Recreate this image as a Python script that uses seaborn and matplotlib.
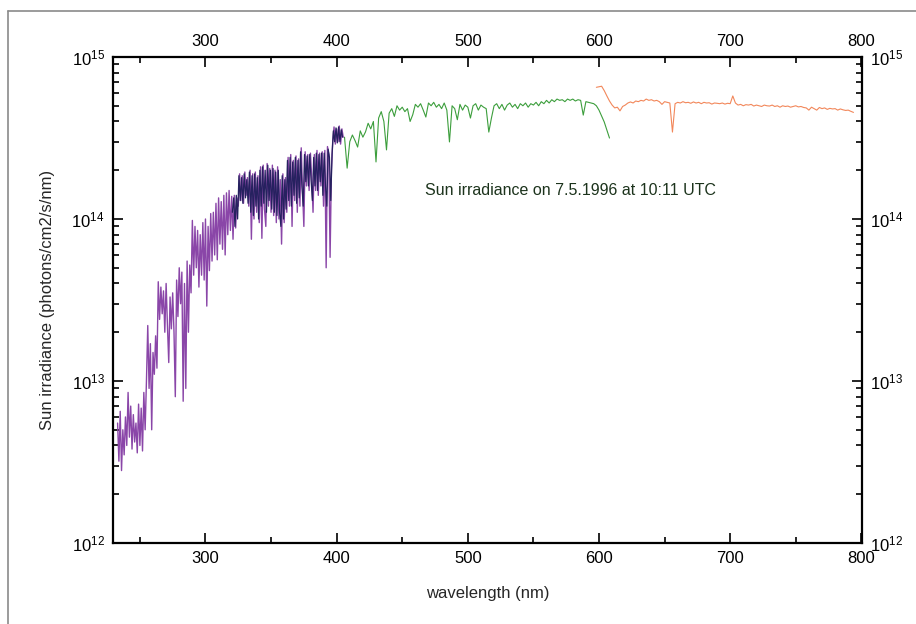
import numpy as np
import pandas as pd
import matplotlib
matplotlib.use("Agg")
import matplotlib.pyplot as plt
from matplotlib.lines import Line2D
from matplotlib.ticker import MultipleLocator, LogLocator, LogFormatterMathtext, NullFormatter
import seaborn as sns

# ---------------- data (irradiance in units of 1e12 photons/cm2/s/nm) ----------------
SCALE = 1e12

uv_wl = np.arange(233, 406, 1)
uv_val = [
    5.5, 3.2, 6.5, 2.8, 5.0, 3.5, 6.0, 4.0, 8.5, 4.5,          # 233-242
    7.0, 3.8, 6.2, 4.2, 5.5, 3.6, 7.2, 4.0, 6.8, 3.7,          # 243-252
    8.5, 5.0, 10.0, 22.0, 9.0, 17.0, 5.0, 15.0, 11.0, 19.0,    # 253-262
    12.0, 41.0, 24.0, 38.0, 26.0, 36.0, 20.0, 40.0, 22.0, 13.0,  # 263-272
    33.0, 21.0, 35.0, 20.0, 8.0, 42.0, 25.0, 50.0, 30.0, 47.0,   # 273-282
    7.5, 40.0, 9.0, 55.0, 20.0, 52.0, 35.0, 98.0, 45.0, 90.0,    # 283-292
    50.0, 85.0, 38.0, 80.0, 45.0, 95.0, 42.0, 100.0, 29.0, 90.0,  # 293-302
    48.0, 108.0, 55.0, 110.0, 60.0, 125.0, 56.0, 135.0, 70.0, 128.0,  # 303-312
    65.0, 140.0, 60.0, 145.0, 80.0, 150.0, 85.0, 138.0, 75.0, 140.0,  # 313-322
    88.0, 135.0, 120.0, 190.0, 130.0, 185.0, 125.0, 195.0, 140.0, 180.0,  # 323-332
    120.0, 200.0, 75.0, 190.0, 100.0, 195.0, 110.0, 185.0, 95.0, 210.0,   # 333-342
    76.0, 215.0, 115.0, 90.0, 220.0, 120.0, 205.0, 110.0, 215.0, 105.0,   # 343-352
    200.0, 95.0, 210.0, 100.0, 175.0, 70.0, 190.0, 95.0, 180.0, 110.0,    # 353-362
    240.0, 120.0, 250.0, 90.0, 230.0, 130.0, 245.0, 110.0, 235.0, 120.0,  # 363-372
    275.0, 150.0, 90.0, 260.0, 160.0, 250.0, 150.0, 255.0, 180.0, 110.0,  # 373-382
    250.0, 150.0, 265.0, 140.0, 255.0, 160.0, 260.0, 120.0, 265.0, 50.0,  # 383-392
    280.0, 250.0, 58.0, 200.0, 300.0, 370.0, 290.0, 360.0, 300.0, 375.0,  # 393-402
    290.0, 360.0, 320.0,                                                  # 403-405
]

uv2_wl = np.arange(320.5, 405.0, 1)
uv2_val = [
    110, 135, 90, 140, 100,
    185, 130, 180, 125, 190, 135, 175, 125,
    195, 110, 185, 105, 190, 120, 180, 100, 200,
    120, 210, 125, 200, 110, 215, 130, 200, 115, 205,
    110, 195, 105, 200, 110, 90, 185, 100, 175, 115,
    230, 130, 240, 120, 225, 140, 240, 125, 230, 135,
    260, 160, 120, 250, 170, 245, 160, 250, 175, 130,
    240, 160, 255, 150, 250, 170, 255, 140, 255, 160,
    120, 270, 240, 130, 250, 350, 300, 365, 295, 370, 300, 355, 320,
]

vis_wl = np.arange(406, 609, 2)
vis_val = [
    320, 206, 300, 330, 305, 278, 350, 320, 345, 390,   # 406-424
    360, 400, 225, 420, 460, 400, 267, 450, 480, 430,   # 426-444
    500, 470, 490, 460, 480, 400, 440, 510, 490, 515,   # 446-464
    470, 426, 520, 500, 525, 490, 510, 480, 520, 470,   # 466-484
    299, 500, 480, 410, 510, 470, 505, 490, 420, 500,   # 486-504
    515, 470, 505, 490, 480, 344, 420, 500, 515, 480,   # 506-524
    510, 470, 505, 520, 490, 510, 480, 515, 500, 520,   # 526-544
    490, 515, 505, 525, 500, 530, 515, 540, 520, 545,   # 546-564
    530, 550, 540, 545, 530, 550, 540, 550, 535, 545,   # 566-584
    540, 438, 530, 525, 520, 515, 500, 470, 432, 397,   # 586-604
    354, 316,                                           # 606-608
]

nir_wl = np.arange(598, 796, 2)
nir_val = [
    650, 655, 660, 620, 575, 535, 505, 485, 490, 465,   # 598-616
    495, 505, 520, 528, 520, 535, 530, 540, 535, 550,   # 618-636
    540, 545, 535, 540, 530, 510, 530, 525, 520, 344,   # 638-656
    515, 525, 520, 530, 522, 525, 518, 528, 520, 525,   # 658-676
    515, 525, 520, 522, 512, 520, 518, 515, 520, 512,   # 678-696
    518, 515, 575, 520, 505, 510, 500, 508, 505, 510,   # 698-716
    498, 505, 500, 495, 505, 500, 498, 505, 495, 500,   # 718-736
    490, 500, 495, 498, 490, 495, 500, 492, 495, 488,   # 738-756
    485, 470, 490, 480, 470, 488, 480, 485, 475, 482,   # 758-776
    478, 480, 470, 478, 472, 468, 470, 462, 455,        # 778-794
]

annotation = "Sun irradiance on 7.5.1996 at 10:11 UTC"
xlabel = "wavelength (nm)"
ylabel = "Sun irradiance (photons/cm2/s/nm)"

# ---------------- plotting ----------------
sns.set_theme(style="ticks")
plt.rcParams["font.family"] = ["Liberation Sans Narrow", "Liberation Sans", "DejaVu Sans"]

fig = plt.figure(figsize=(9.16, 6.24), dpi=100)
ax = fig.add_axes([113 / 916, 1 - 543 / 624, (862 - 113) / 916, (543 - 57) / 624])

series = [
    (uv_wl, uv_val, "#8a46a8", 1.0),
    (uv2_wl, uv2_val, "#26215f", 0.9),
    (vis_wl, vis_val, "#3c9e3c", 0.8),
    (nir_wl, nir_val, "#f2875a", 0.8),
]
for wl, val, col, lw in series:
    df = pd.DataFrame({"wl": wl, "irr": np.asarray(val, dtype=float) * SCALE})
    sns.lineplot(data=df, x="wl", y="irr", ax=ax, color=col, lw=lw,
                 estimator=None, sort=False)

ax.set_yscale("log")
ax.set_xlim(229.5, 800.5)
ax.set_ylim(1e12, 1e15)

ax.xaxis.set_major_locator(MultipleLocator(100))
ax.xaxis.set_minor_locator(MultipleLocator(50))
ax.yaxis.set_major_locator(LogLocator(base=10))
ax.yaxis.set_minor_locator(LogLocator(base=10, subs=np.arange(2, 10)))
ax.yaxis.set_major_formatter(LogFormatterMathtext())
ax.yaxis.set_minor_formatter(NullFormatter())

ax.tick_params(axis="both", which="both", direction="in", top=True, right=True,
               labeltop=True, labelright=True, colors="black", labelsize=12,
               width=1.2)
ax.tick_params(axis="both", which="major", length=7, pad=6)
ax.tick_params(axis="both", which="minor", length=4)
for s in ax.spines.values():
    s.set_linewidth(1.6)
    s.set_color("black")

ax.set_xlabel(xlabel, fontsize=12, labelpad=14)
ax.set_ylabel(ylabel, fontsize=12, labelpad=12)

ax.text(467, 1.5e14, annotation, fontsize=11.5, color="#1c331c",
        ha="left", va="center")

# outer page frame (scanned figure border)
fig.add_artist(Line2D([8 / 916, 8 / 916], [0, 1 - 11 / 624], color="#8a8a8a", lw=1.2,
                      transform=fig.transFigure))
fig.add_artist(Line2D([8 / 916, 1], [1 - 11 / 624, 1 - 11 / 624], color="#8a8a8a", lw=1.2,
                      transform=fig.transFigure))

fig.savefig("out.png", dpi=100)
